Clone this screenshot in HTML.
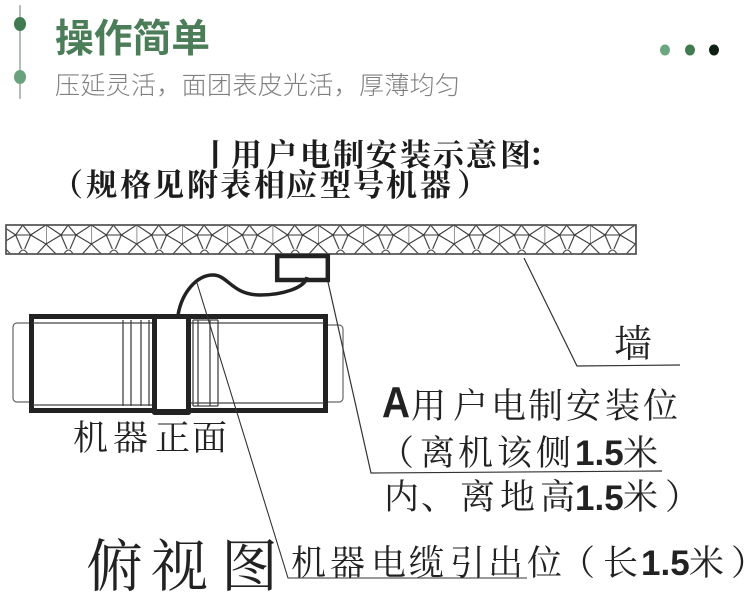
<!DOCTYPE html>
<html>
<head>
<meta charset="utf-8">
<style>
html,body{margin:0;padding:0;background:#fff;}
svg{display:block;}
.s{font-family:"Liberation Serif","Noto Serif CJK SC",serif;fill:#222;}
.h{font-family:"Liberation Serif","Noto Serif CJK SC",serif;fill:#1c1c1c;font-weight:bold;font-size:31px;}
.b{font-family:"Liberation Sans",sans-serif;font-weight:bold;fill:#222;}
</style>
</head>
<body>
<svg width="750" height="606" viewBox="0 0 750 606" xmlns="http://www.w3.org/2000/svg">
<defs>
<pattern id="w" x="0.67" y="225" width="45.33" height="29" patternUnits="userSpaceOnUse">
<path d="M0 0V19M0 0L15 10M0 19L15 10M15 10H30M15 10L22 0M30 10L22 0M30 10L45.33 0M30 10L45.33 19M15 10L21 24M30 10L24 24M18 29Q22.500 21 27 29M0 19L-9 29M0 19L10 29M45.33 19L36.33 29M45.33 19L55.33 29" fill="none" stroke="#383838" stroke-width="1.1"/>
</pattern>
</defs>
<rect width="750" height="606" fill="#fff"/>

<!-- header -->
<line x1="20" y1="5" x2="20" y2="99" stroke="#9aa89f" stroke-width="1.5"/>
<ellipse cx="20" cy="24" rx="6" ry="7" fill="#3f7a50"/>
<ellipse cx="20" cy="77" rx="6" ry="7" fill="#69a27c"/>
<text x="55" y="52" font-size="39" font-weight="bold" textLength="155" lengthAdjust="spacingAndGlyphs" fill="#4a7d58" style="font-family:'Liberation Sans','Noto Sans CJK SC',sans-serif">操作简单</text>
<text x="55" y="94" font-size="25" textLength="405" lengthAdjust="spacing" fill="#808080" style="font-family:'Liberation Sans','Noto Sans CJK SC',sans-serif;font-weight:300">压延灵活，面团表皮光活，厚薄均匀</text>
<ellipse cx="665" cy="50" rx="5" ry="5.5" fill="#6aa680"/>
<ellipse cx="690" cy="50" rx="5" ry="5.5" fill="#3f7a50"/>
<ellipse cx="714" cy="50" rx="5" ry="5.5" fill="#0e1f14"/>

<!-- heading -->
<text class="h" y="166" x="200 231 266 300 333 366 400 433 466 500 528">丨用户电制安装示意图：</text>
<text class="h" y="196" x="52 86 120 153 187 220 254 286 320 353 386 420 457">（规格见附表相应型号机器）</text>

<!-- wall -->
<rect x="6" y="225" width="630" height="29" fill="url(#w)" stroke="#505050" stroke-width="1.7"/>

<!-- control box -->
<rect x="277.200" y="256" width="50.600" height="24" fill="#fff" stroke="#222" stroke-width="4.500"/>

<!-- cable -->
<path d="M178 315C182 292 197 275 213 275C228 275 232 295 260 295C282 295 305 288 307 277" fill="none" stroke="#222" stroke-width="3.500"/>

<!-- machine -->
<rect x="13" y="323" width="20" height="79" rx="4" fill="#fff" stroke="#666" stroke-width="1.2"/>
<rect x="322" y="325" width="21" height="77" rx="4" fill="#fff" stroke="#666" stroke-width="1.2"/>
<rect x="31.500" y="316.500" width="294" height="94" fill="#fff" stroke="#222" stroke-width="5"/>
<path d="M33 323H324M33 405H152M190 403H324" fill="none" stroke="#444" stroke-width="1.3"/>
<path d="M123 320V406M131 320V406M141 320V406M149 320V406M193 320V406M198 320V406M210 320V406M218 320V406M193 320H218M193 406H218" fill="none" stroke="#444" stroke-width="1.3"/>
<rect x="154.500" y="316.500" width="34" height="96" rx="2" fill="#fff" stroke="#222" stroke-width="5"/>
<rect x="152" y="409" width="39" height="6" rx="2.500" fill="#222"/>

<!-- leaders -->
<path d="M197 283L288 578H527" fill="none" stroke="#333" stroke-width="1.1"/>
<path d="M328 282L371 473L662 471" fill="none" stroke="#333" stroke-width="1.2"/>
<path d="M524 258L577 366L680 365" fill="none" stroke="#333" stroke-width="1.2"/>

<!-- labels -->
<text class="s" x="614" y="357" font-size="38">墙</text>
<text class="b" x="382" y="417" font-size="44" textLength="28" lengthAdjust="spacingAndGlyphs">A</text>
<text class="s" y="418" font-size="35" x="411 453 491 528 566 605 643">用户电制安装位</text>
<text class="s" y="465" font-size="35" x="379 420 458 497 536">（离机该侧<tspan class="b" font-size="35" x="575" y="465">1.5</tspan><tspan x="623" y="465">米</tspan></text>
<text class="s" y="509" font-size="35" x="384 421 460 500 540">内、离地高<tspan class="b" font-size="35" x="575" y="510">1.5</tspan><tspan x="623 665" y="509">米）</tspan></text>
<text class="s" y="450" font-size="35" x="73 113 155 192">机器正面</text>
<text class="s" y="586" font-size="57" x="86 151 221">俯视图</text>
<text class="s" y="575" font-size="35" x="291 330 371 409 450 488 527 560 603">机器电缆引出位（长<tspan class="b" font-size="35" x="641" y="575">1.5</tspan><tspan x="689 731" y="575">米）</tspan></text>
</svg>
</body>
</html>
